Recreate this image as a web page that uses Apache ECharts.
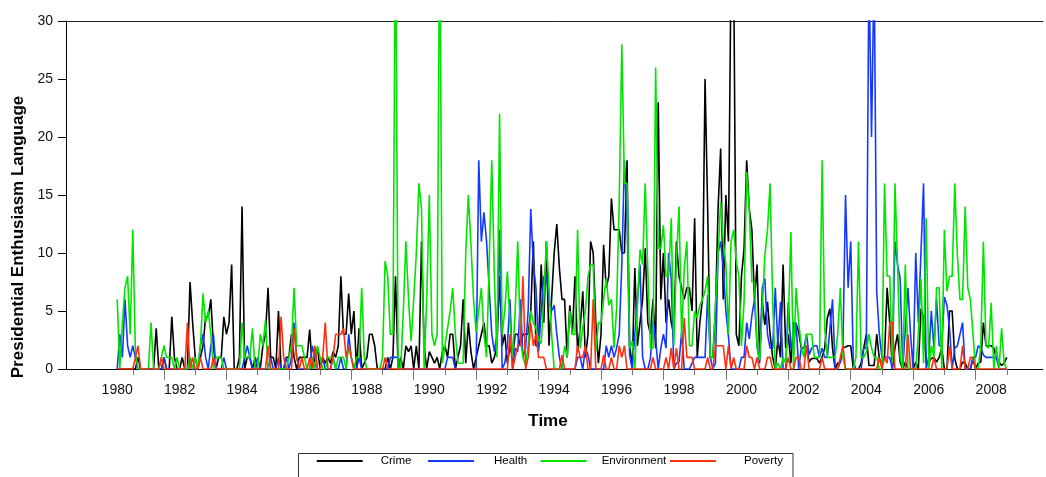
<!DOCTYPE html>
<html>
<head>
<meta charset="utf-8">
<title>Presidential Enthusiasm Language</title>
<script src="https://cdn.jsdelivr.net/npm/echarts@6/dist/echarts.min.js"></script>
<style>
  html, body { margin: 0; padding: 0; background: #fff; }
  #chart { width: 1046px; height: 477px; }
</style>
</head>
<body>
<div id="chart"></div>
<script>
// monthly counts, Jan 1980 .. Jul 2008 (one row per year)
const startYear = 1980;

const crime = [
  0,0,0,0,0,0,0,0,1,0,0,0,
  0,0,0,3.5,0,0,1,0,0,4.5,1,0,
  0,1,0,0,7.5,4,1,0,1,2,4.5,4.5,
  6,2,0,1,1,4.5,3,4,9,0,0,1,
  14,0,1,1,0,1,0,0,2,3,7,1,
  1,0,5,0,0,1,1,3,1,0,1,1,
  1,1,3.4,0,1,1.8,0,1,0.5,1,0.5,1.5,
  1,2,8,3,3,6.5,3,5,0,3.5,0,0.5,
  1,3,3,2,0,0,0,0,1,0,1,8,
  0,1,0,2,1.5,2,0,2,0,11,2,0,
  1.5,1,0.5,1,0,1.5,2,1,3,3,0,1,
  2,6,0.5,4,1.5,0,1,2,3,4,2,2,
  0.5,1,2,8,2,3,0.5,2,1,3,3,2,
  3,3,3,5,11,2,2,9,4,11,2,6,
  10,12.5,8.7,6,6,1,5.5,3,8,1.5,3.6,6.7,
  1,3,11,10,4,0.5,3,10.7,7,8,14.7,12,
  12,12,10,10,18,2,0,8.7,2,4,6,10.4,
  4,3,6,1.8,23,6,10,4,6,4,3,11,
  8,7,6,7,7,5,13,1,4,6,25,13.8,
  1,1,5,13.8,19,6,15,11,35,35,3,2,
  8,10.4,18,13.8,12,6,9,1,5.8,3.8,5.8,3,
  1,0,2.6,1,9,1.8,3,0.5,4,3.9,3.2,1.8,
  1.8,2,0.6,0.9,0.9,0.9,0.5,1,1.8,4.4,5.2,1.8,
  0,0.5,0.6,1.8,1.9,2,2,0,0,0,0.5,1.8,
  3,0.3,0.3,0.3,3,0.9,0.5,1,7,4,0,1.8,
  3,0.6,0,0.6,0,0,0,0.6,0,5.2,4.4,0.6,
  0.6,0.9,1,0.6,1,1.8,0,0,5,5,0.9,0,
  0,0.6,0.5,0,0,0.9,0,0.5,0.6,4,2,2,
  2,1.8,0.9,0.6,0.3,0.5,1
];

const health = [
  0,3,1,6,2,1,2,1,0,0,0,0,
  0,0,0,0,0,0,1,0,0,0,0,0,
  0,0,0,0,1,0,0,0,2,3,1,0,
  2,3,0,0,0,1,0,0,0,0,0,0,
  0,1,2,1,0,0,1,0,0,0,0,1,
  0,0,1,0,0,1,0,1,4,1,0,0,
  0,0,0,2,1,0,0,1,0,0,0,1,
  0,0,1,0,0,3,1,0,0,1,0,0,
  0,0,0,0,0,0,0,0,0,1,1,1,
  1,0,0,0,0,0,0,0,0,0,0,0,
  0,0,0,0,0,0,0,1,1,1,0,0,
  0,0,0,0,0,0,0,18,11,13.5,11,7,
  3,1.5,3,12,0,0.5,2,6,0,1.8,1.5,6,
  1,1.8,5,13.8,9,7,1.5,5,8,8,6,5,
  5.5,3,1,0,0,0,0,0,0,1,1,0,
  1.8,1.2,0,0,0,0,0,0,2,1,2,1,
  1.8,3,9,18,13,1.2,0,3,5.8,9,1,0,
  0,0.9,4.2,2.6,0,1.8,3,1.8,10,7.8,0,0.5,
  0.6,3.2,0,0,0,0.5,1,1,1,1,1,6.4,
  1,0,0.5,10,11,8.8,5,2.8,0,0,0,0,
  1,1,4,2.6,4.6,6,2,0.5,7,7.8,3,1.8,
  1.8,7,2,5.8,0,0,5.8,1.8,2,4,0,1.8,
  1.8,3,1.2,1.8,2,2,1,1.8,1,1,3.5,6,
  0,0,0.6,1.8,15,7,11,0.6,0,0,0,1.8,
  1.8,35,20,35,6.6,3,1,1,1,1,0,11,
  9,7.8,0,3.5,7,3,0,10,4,10,16,0,
  1,5,1.8,6,2,2,6.2,5.5,3.5,0,1.8,2,
  3,4,0,0,0,1,1,2,1.8,1.2,1,1,
  1,1,1,0,0,0,0
];

const environment = [
  6,0,4,7,8,3,12,1.5,0,0,0,0,
  0,4,0,0,0,1,2,1,1,1,0,1,
  0,0,0,0,1,0,1,0,2,6.5,4,5,
  3,0,1,1,1,0,0,0,0,0,0,0,
  4,1,1,1,3.5,0,0,3,2,4.2,0,0,
  0,0,0,0,0,0,1,2,7,2,2,2,
  1,0,0,1,0,2,1,0,0,1,1,1,
  0,1,1,1,0,2,1,0,1,1,7,1,
  0,0,0,0,0,0,1,9.3,8,3,3,40,
  0,0,5,11,6,2.4,6,10,16,13.8,0,6,
  15,3,2,3,40,0.5,2,3.5,5,7,3,0.5,
  0.5,0.5,10,15,10.7,6,3.2,5,7,3,1,9,
  18,8,1,22,3,5,8.4,4,1,5,11,2.6,
  1,0.3,2,5,4,3.5,2.5,2.2,6,11,7,3,
  0,0,0,0,2,1,5,3,3,12,1.8,3.6,
  5,8,9,9,1.5,4,4,6,7.8,5.5,6,1.8,
  5.2,14.4,28,16,16,1.8,2.4,0,5.5,10.3,9,16,
  8.4,1.8,1.8,26,10.4,10.4,12.4,8,8,13,2,9.5,
  14,2.6,8.7,11,2,2,5,4.4,5.5,6,6.7,8,
  1,1,5.5,9.8,14.4,11,9,3,11,12,9.3,8,
  2,5.8,17,13.8,7.5,7.5,1.8,0.8,5.2,9.8,12,16,
  5.8,0,0.5,0,1,0.5,4,11.8,0,7,4,2,
  1,3,3,3,1,1,1,18,3.5,1,1,1,
  1,3,7,1,0,0,0,0,1,11,1,1,
  1.5,3,1.8,1,1,0,0,16,8,8,0.5,16,
  9,1,0,9,0,0,0,0,3,7.8,0.5,13,
  0,2,1,7,7,0,12,6.7,8,8,16,9.8,
  6,6,14,7,6,3,0,0,2,11,2,1.8,
  5.7,0,2,0,3.5,0.5,0
];

const poverty = [
  0,0,0,0,0,0,0,1,2,0,0,0,
  0,0,0,0,0,1,0,0,0,0,0,0,
  0,0,0,4,0,1,0,0,1,0,0,0,
  0,1,0,0,0,0,0,0,0,0,0,0,
  0,0,0,0,0,0,0,0,0,0,2,0,
  0,0,0,4.5,1,0,0,0,3.5,1,0,1,
  0,0,1,0,2,0,0,1,4,0,0,1,
  3,3,3,3.5,1,2,1,0,0,0,0,0,
  0,0,0,0,0,0,0,1,0,0,0,0,
  0,0,0,0,0,0,0,0,0,0,0,0,
  0,0,0,0,0,0,0,0,0,0,0,0,
  0,0,0,0,0,0,0,0,0,0,0,0,
  0,0,0,0,0,0,0,3,0,1,2,2,
  8,0,1,4,2,3,1,1,1,0,0,0,
  0,0,0,1.2,0,0,0,0,0,2,1,1,
  2,0,0,6,0,0,0,1.2,0,0,1,0,
  0,2,1,2,0,0,0,0,0,0,0,0,
  0,0,1,0,0,0,0,1,0,1.8,0,1.8,
  0,0,4.4,1,1,1,0,0,0,0,0,1,
  0,0,2,2,2,2,0,2,0,1,0,0,
  0,0,2,1,1,0,1,0,0,0,1,1,
  0,0,0,0,0,0,1,0,0,1,1,0,
  0,2,0,0,0,0,0,1,0,0,0,0,
  0,0,1,2,0,0,0,0,0,0,0,0,
  0,0,0,0,0,1,0,1,0.5,4,4,0,
  0,0,0,0,3,0,0,0,0,0,0,0,
  0,0,1,0,0,0,0,0,2,0,0,0,
  0,2,0,0,1,1,0,0,0,0,0,0,
  0,0,0,0,0,0,0
];

const yearLabels = [1980, 1982, 1984, 1986, 1988, 1990, 1992, 1994, 1996, 1998, 2000, 2002, 2004, 2006, 2008];
const majorTicks = [1981.5, 1983.5, 1985.5, 1987.5, 1989.5, 1991.5, 1993.5, 1995.5, 1997.5, 1999.5, 2001.5, 2003.5, 2005.5, 2007.5];
const minorTicks = [1980.5, 1982.5, 1984.5, 1986.5, 1988.5, 1990.5, 1992.5, 1994.5, 1996.5, 1998.5, 2000.5, 2002.5, 2004.5, 2006.5, 2008.5];

const font = '"Liberation Sans", Arial, Helvetica, sans-serif';
const xMin = 1978.36;
const xMax = 2009.66;

// month index -> decimal year
const toPairs = vals => vals.map((v, i) => [startYear + i / 12, v]);

const chart = echarts.init(document.getElementById('chart'), null, { renderer: 'canvas' });

const makeSeries = (name, vals, color) => ({
  name,
  type: 'line',
  data: toPairs(vals),
  symbol: 'none',
  clip: true,
  lineStyle: { color, width: 1.6 },
  itemStyle: { color },
  emphasis: { disabled: true }
});

// one legend per entry so each sits where it does in the original
const makeLegend = (name, left, padLeft) => ({
  data: [name],
  left,
  top: 455,
  padding: 0,
  itemWidth: 46,
  itemHeight: 2,
  icon: 'rect',
  selectedMode: false,
  textStyle: { fontFamily: font, fontSize: 11.5, color: '#000', padding: [0, 0, 0, padLeft] }
});

chart.setOption({
  animation: false,
  backgroundColor: '#fff',
  grid: { left: 66, right: 3, top: 21, bottom: 108, containLabel: false },
  xAxis: [
    {
      type: 'value',
      min: xMin,
      max: xMax,
      position: 'bottom',
      axisLine: { onZero: false, lineStyle: { color: '#000', width: 1 } },
      axisTick: { show: true, customValues: majorTicks, length: 11, lineStyle: { color: '#777' } },
      axisLabel: {
        customValues: yearLabels,
        formatter: v => String(Math.round(v)),
        fontSize: 14, color: '#111', margin: 14, fontFamily: font
      },
      splitLine: { show: false }
    },
    {
      type: 'value',
      min: xMin,
      max: xMax,
      position: 'bottom',
      axisLine: { show: false, onZero: false },
      axisTick: { show: true, customValues: minorTicks, length: 6, lineStyle: { color: '#777' } },
      axisLabel: { show: false },
      splitLine: { show: false }
    },
    {
      type: 'value',
      min: xMin,
      max: xMax,
      position: 'top',
      axisLine: { show: true, onZero: false, lineStyle: { color: '#222', width: 1 } },
      axisTick: { show: false },
      axisLabel: { show: false },
      splitLine: { show: false }
    }
  ],
  yAxis: {
    type: 'value',
    min: 0,
    max: 30,
    interval: 5,
    axisLine: { show: true, onZero: false, lineStyle: { color: '#000', width: 1 } },
    axisTick: { show: true, length: 8, lineStyle: { color: '#000' } },
    axisLabel: { fontSize: 14, color: '#111', margin: 13, fontFamily: font },
    splitLine: { show: false }
  },
  legend: [
    makeLegend('Crime', 316.7, 13),
    makeLegend('Health', 428, 15),
    makeLegend('Environment', 540.7, 10),
    makeLegend('Poverty', 670, 23)
  ],
  graphic: [
    {
      type: 'rect',
      shape: { x: 298.5, y: 453.5, width: 494.5, height: 40 },
      style: { fill: 'none', stroke: '#333', lineWidth: 1 },
      silent: true
    },
    {
      type: 'text',
      x: 18,
      y: 237,
      rotation: Math.PI / 2,
      style: {
        text: 'Presidential Enthusiasm Language',
        font: 'bold 17px ' + font,
        fill: '#000',
        textAlign: 'center',
        textVerticalAlign: 'middle'
      }
    },
    {
      type: 'text',
      x: 548,
      y: 421,
      style: {
        text: 'Time',
        font: 'bold 17px ' + font,
        fill: '#000',
        textAlign: 'center',
        textVerticalAlign: 'middle'
      }
    }
  ],
  series: [
    makeSeries('Crime', crime, '#000000'),
    makeSeries('Health', health, '#1438ff'),
    makeSeries('Environment', environment, '#00e400'),
    makeSeries('Poverty', poverty, '#ff3010')
  ]
});
</script>
</body>
</html>
